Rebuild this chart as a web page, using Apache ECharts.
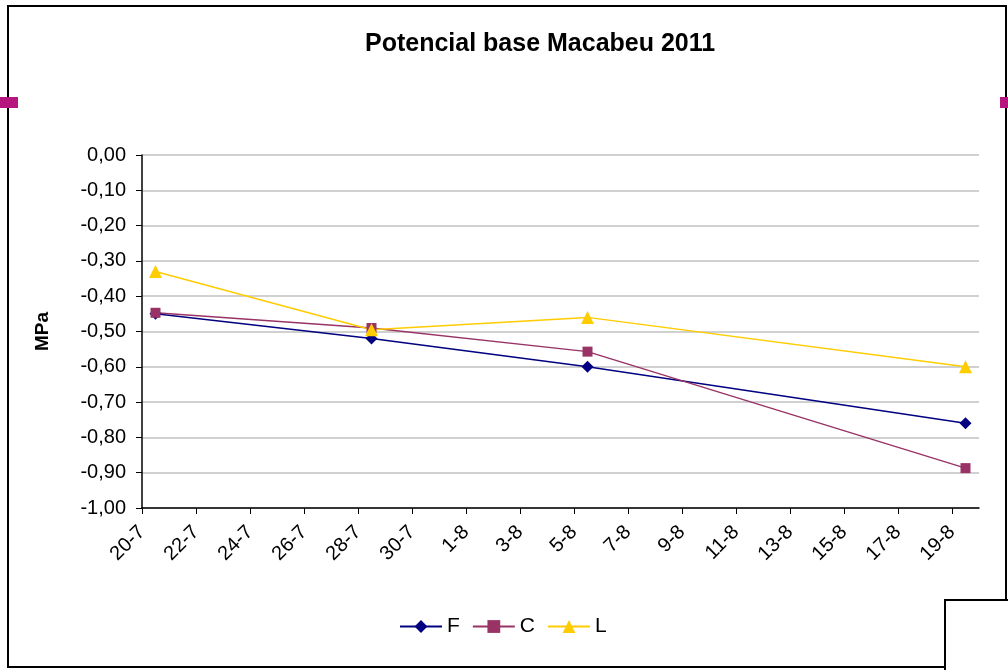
<!DOCTYPE html>
<html>
<head>
<meta charset="utf-8">
<script src="https://cdn.jsdelivr.net/npm/echarts@6/dist/echarts.min.js"></script>
<style>
  html, body { margin: 0; padding: 0; background: #fff; }
  #chart { width: 1008px; height: 670px; }
</style>
</head>
<body>
<div id="chart"></div>
<script>
// dates of the readings (day-month, 2011)
var dates = ['20-7', '28-7', '5-8', '19-8'];
var valuesF = [-0.45, -0.52, -0.60, -0.76];
var valuesC = [-0.447, -0.49, -0.557, -0.887];
var valuesL = [-0.33, -0.495, -0.46, -0.60];
// x axis tick labels, every 2 days
var tickLabels = ['20-7', '22-7', '24-7', '26-7', '28-7', '30-7', '1-8', '3-8',
  '5-8', '7-8', '9-8', '11-8', '13-8', '15-8', '17-8', '19-8'];

var start = Date.UTC(2011, 6, 20);
function dayOf(s) {
  var p = s.split('-');
  return (Date.UTC(2011, +p[1] - 1, +p[0]) - start) / 86400000;
}
// Excel date axis puts the point in the middle of the day
function pairs(vals) {
  return dates.map(function (d, i) { return [dayOf(d) + 0.5, vals[i]]; });
}
var tickDays = tickLabels.map(dayOf);
var labelByDay = {};
tickLabels.forEach(function (l) { labelByDay[dayOf(l)] = l; });

var myChart = echarts.init(document.getElementById('chart'));
var font = 'Liberation Sans, Arial, sans-serif';
var option = {
  backgroundColor: '#fff',
  textStyle: { fontFamily: font },
  title: {
    text: 'Potencial base Macabeu 2011',
    left: 360,
    top: 27,
    textStyle: { fontSize: 25, fontWeight: 'bold', color: '#000', fontFamily: font }
  },
  legend: {
    bottom: 28,
    left: 394,
    itemWidth: 42,
    itemHeight: 16,
    itemGap: 12,
    textStyle: { fontSize: 21, color: '#000' },
    data: ['F', 'C', 'L']
  },
  grid: { left: 142, right: 29, top: 155, bottom: 162 },
  xAxis: {
    type: 'value',
    min: 0,
    max: 31,
    splitLine: { show: false },
    axisLine: { onZero: false, lineStyle: { color: '#000', width: 1.5 } },
    axisTick: { show: true, length: 6, inside: false, customValues: tickDays, lineStyle: { color: '#000' } },
    axisLabel: {
      customValues: tickDays,
      rotate: 45,
      fontSize: 20,
      color: '#000',
      margin: 21,
      formatter: function (v) { return labelByDay[v] || ''; }
    }
  },
  yAxis: {
    type: 'value',
    name: 'MPa',
    nameLocation: 'middle',
    nameGap: 90,
    nameTextStyle: { fontSize: 19, fontWeight: 'bold', color: '#000' },
    min: -1,
    max: 0,
    interval: 0.1,
    axisLine: { show: true, lineStyle: { color: '#000', width: 1.5 } },
    axisTick: { show: true, length: 6, lineStyle: { color: '#000' } },
    splitLine: { show: true, lineStyle: { color: '#c0c0c0', width: 1.5 } },
    axisLabel: {
      fontSize: 20,
      color: '#000',
      margin: 16,
      formatter: function (v) { return v.toFixed(2).replace('.', ','); }
    }
  },
  series: [
    {
      name: 'F', type: 'line', data: pairs(valuesF),
      symbol: 'diamond', symbolSize: 12,
      lineStyle: { color: '#000080', width: 1.5 },
      itemStyle: { color: '#000080' }
    },
    {
      name: 'C', type: 'line', data: pairs(valuesC),
      symbol: 'rect', symbolSize: 10,
      lineStyle: { color: '#993366', width: 1.5 },
      itemStyle: { color: '#993366' }
    },
    {
      name: 'L', type: 'line', data: pairs(valuesL),
      symbol: 'triangle', symbolSize: 13,
      lineStyle: { color: '#FFCC00', width: 1.5 },
      itemStyle: { color: '#FFCC00' }
    }
  ],
  graphic: [
    { type: 'rect', shape: { x: 8, y: 6, width: 998, height: 661 }, style: { fill: 'none', stroke: '#000', lineWidth: 2 }, silent: true, z: -1 },
    { type: 'rect', shape: { x: 945, y: 600, width: 70, height: 80 }, style: { fill: '#fff', stroke: '#000', lineWidth: 2 }, silent: true, z: 10 },
    { type: 'rect', shape: { x: 0, y: 97, width: 18, height: 11 }, style: { fill: '#b5177f' }, silent: true, z: 10 },
    { type: 'rect', shape: { x: 1000, y: 97, width: 8, height: 11 }, style: { fill: '#b5177f' }, silent: true, z: 10 }
  ]
};
myChart.setOption(option);
</script>
</body>
</html>
